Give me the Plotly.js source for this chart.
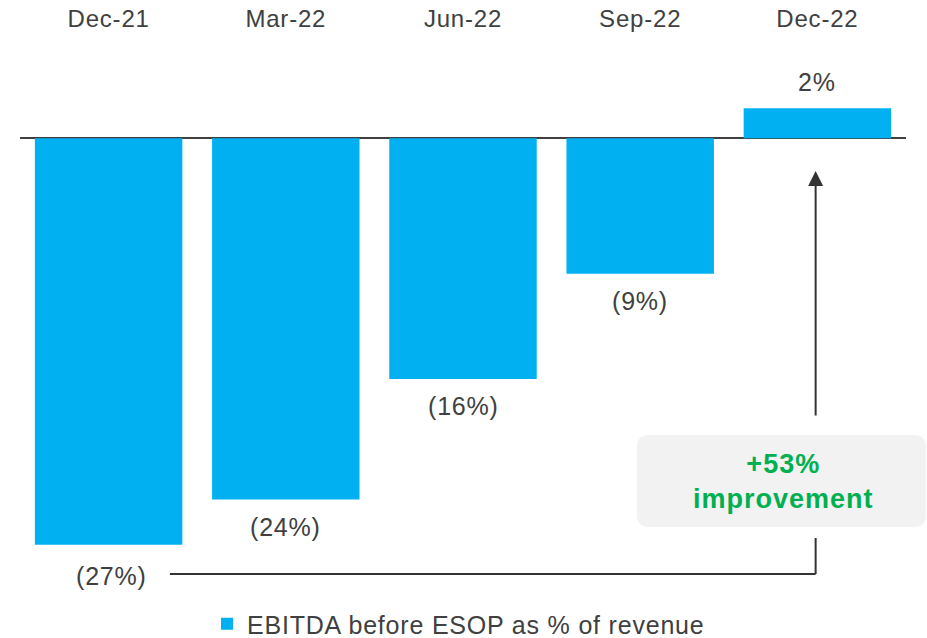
<!DOCTYPE html>
<html>
<head>
<meta charset="utf-8">
<script src="https://cdn.plot.ly/plotly-3.0.1.min.js"></script>
<style>
html,body{margin:0;padding:0;background:#fff;}
#chart{width:927px;height:638px;}
.xtick text{letter-spacing:0.8px;}
.annotation-text{letter-spacing:0.8px;}
.legendtext{letter-spacing:0.8px;}
</style>
</head>
<body>
<div id="chart"></div>
<script>
// ---- data ----
const categories = ['Dec-21', 'Mar-22', 'Jun-22', 'Sep-22', 'Dec-22'];
const values = [-27, -24, -16, -9, 2];
const valueLabels = ['(27%)', '(24%)', '(16%)', '(9%)', '2%'];
const seriesName = 'EBITDA before ESOP as % of revenue';
const improvementLines = ['+53%', 'improvement'];

// ---- layout geometry ----
const W = 927, H = 638;
const M = {l: 20, r: 21, t: 45, b: 40, autoexpand: false};
const PW = W - M.l - M.r, PH = H - M.t - M.b;
const PX_PER_UNIT = 15.05;
const Y_MAX = 93.3 / PX_PER_UNIT;
const px2paperX = p => (p - M.l) / PW;
const px2paperY = p => (H - M.b - p) / PH;
const px2dataY = p => Y_MAX - (p - M.t) / PX_PER_UNIT;

const FONT = 'Arial, "Liberation Sans", Helvetica, sans-serif';
const TXT = '#404040';
const BLUE = '#00B0F0';
const GREEN = '#00B050';

// rounded box path in paper coords
function roundRect(x0, y0, x1, y1, r) {
  const X0 = px2paperX(x0), X1 = px2paperX(x1);
  const Y0 = px2paperY(y1), Y1 = px2paperY(y0); // bottom, top
  const rx = r / PW, ry = r / PH;
  return `M${X0 + rx},${Y1} L${X1 - rx},${Y1} Q${X1},${Y1} ${X1},${Y1 - ry} ` +
         `L${X1},${Y0 + ry} Q${X1},${Y0} ${X1 - rx},${Y0} L${X0 + rx},${Y0} ` +
         `Q${X0},${Y0} ${X0},${Y0 + ry} L${X0},${Y1 - ry} Q${X0},${Y1} ${X0 + rx},${Y1} Z`;
}

const trace = {
  type: 'bar',
  x: categories,
  y: values,
  name: seriesName,
  marker: {color: BLUE},
  showlegend: true,
  hoverinfo: 'skip'
};

const annotations = categories.map((c, i) => ({
  x: c, y: values[i], xref: 'x', yref: 'y',
  text: valueLabels[i], showarrow: false,
  yanchor: 'middle',
  yshift: values[i] < 0 ? (i === 0 ? -31 : -27) : 26,
  xshift: i === 0 ? 3 : 0,
  font: {family: FONT, size: 25, color: TXT}
}));

const arrowX = 3.99;
// arrow (upward) above the box
annotations.push({
  x: arrowX, y: px2dataY(171), xref: 'x', yref: 'y',
  ax: arrowX, ay: px2dataY(424), axref: 'x', ayref: 'y',
  text: ' ', showarrow: true, arrowhead: 2, arrowsize: 1.5, arrowwidth: 2,
  arrowcolor: '#333333', standoff: 0, startstandoff: 0
});
// green improvement text
annotations.push({
  x: px2paperX(783), y: px2paperY(481), xref: 'paper', yref: 'paper',
  text: improvementLines.map(s => `<span style="letter-spacing:1px">${s}</span>`).join('<br>'),
  showarrow: false,
  xanchor: 'center', yanchor: 'middle',
  font: {family: FONT, size: 27, color: GREEN, weight: 'bold'}
});

const shapes = [
  {type: 'path', xref: 'paper', yref: 'paper', path: roundRect(637, 435, 926, 527, 12),
   fillcolor: '#F2F2F2', line: {width: 0}},
  {type: 'line', xref: 'x', yref: 'y', x0: 0.346, x1: arrowX, y0: px2dataY(574), y1: px2dataY(574),
   line: {color: '#333333', width: 2}},
  {type: 'line', xref: 'x', yref: 'y', x0: arrowX, x1: arrowX, y0: px2dataY(574), y1: px2dataY(538),
   line: {color: '#333333', width: 2}}
];

const layout = {
  width: W, height: H,
  margin: M,
  paper_bgcolor: '#fff', plot_bgcolor: '#fff',
  font: {family: FONT, color: TXT},
  bargap: 0.168,
  showlegend: true,
  legend: {orientation: 'h', x: px2paperX(207), xanchor: 'left', y: px2paperY(624), yanchor: 'middle',
           font: {family: FONT, size: 25, color: TXT}, bgcolor: 'rgba(0,0,0,0)'},
  xaxis: {type: 'category', side: 'top', range: [-0.5, 4.5], showgrid: false, showline: false,
          zeroline: false, ticks: '', ticklabelstandoff: 12,
          tickfont: {family: FONT, size: 24, color: TXT}, fixedrange: true},
  yaxis: {range: [Y_MAX - PH / PX_PER_UNIT, Y_MAX], showgrid: false, showline: false,
          showticklabels: false, ticks: '', zeroline: true, zerolinecolor: '#404040',
          zerolinewidth: 2, fixedrange: true},
  annotations: annotations,
  shapes: shapes
};

Plotly.newPlot('chart', [trace], layout, {displayModeBar: false, staticPlot: true});
</script>
</body>
</html>
